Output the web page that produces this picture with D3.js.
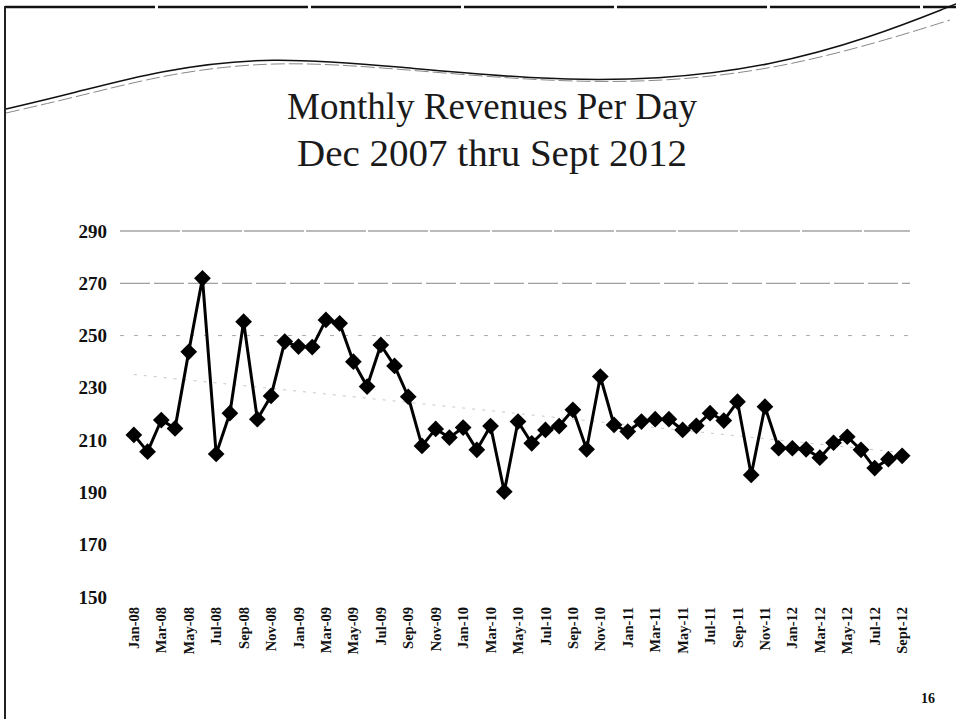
<!DOCTYPE html>
<html>
<head>
<meta charset="utf-8">
<script src="https://cdn.jsdelivr.net/npm/d3@7"></script>
<style>
  html, body { margin: 0; padding: 0; background: #fff; }
  svg { display: block; }
</style>
</head>
<body>
<svg id="chart" width="956" height="719"></svg>
<script>
// ---- data ----
const titleLines = ["Monthly Revenues Per Day", "Dec 2007 thru Sept 2012"];
const months = [
  "Jan-08","Feb-08","Mar-08","Apr-08","May-08","Jun-08","Jul-08","Aug-08","Sep-08","Oct-08","Nov-08","Dec-08",
  "Jan-09","Feb-09","Mar-09","Apr-09","May-09","Jun-09","Jul-09","Aug-09","Sep-09","Oct-09","Nov-09","Dec-09",
  "Jan-10","Feb-10","Mar-10","Apr-10","May-10","Jun-10","Jul-10","Aug-10","Sep-10","Oct-10","Nov-10","Dec-10",
  "Jan-11","Feb-11","Mar-11","Apr-11","May-11","Jun-11","Jul-11","Aug-11","Sep-11","Oct-11","Nov-11","Dec-11",
  "Jan-12","Feb-12","Mar-12","Apr-12","May-12","Jun-12","Jul-12","Aug-12","Sept-12"
];
const revenues = [
  212.0, 205.6, 217.7, 214.5, 243.8, 271.9, 204.7, 220.3, 255.3, 218.0, 226.9, 247.7,
  245.8, 245.6, 256.0, 254.7, 240.0, 230.5, 246.4, 238.4, 226.6, 207.8, 214.3, 211.0,
  214.8, 206.3, 215.4, 190.3, 217.1, 208.8, 213.9, 215.4, 221.6, 206.5, 234.3, 215.8,
  213.3, 217.1, 218.0, 218.0, 213.9, 215.5, 220.3, 217.5, 224.7, 196.7, 222.8, 206.9,
  206.9, 206.5, 203.3, 209.0, 211.3, 206.3, 199.3, 202.7, 204.0
];
const yTicks = [150, 170, 190, 210, 230, 250, 270, 290];
const gridValues = [290, 270, 250];
const pageNumber = "16";

// ---- drawing ----
const svg = d3.select("#chart");

// decorative frame
svg.append("line").attr("x1", 5).attr("y1", 7).attr("x2", 956).attr("y2", 7)
  .attr("stroke", "#111").attr("stroke-width", 2.5).attr("stroke-dasharray", "150,3");
svg.append("line").attr("x1", 5).attr("y1", 6).attr("x2", 5).attr("y2", 719)
  .attr("stroke", "#222").attr("stroke-width", 2);

// decorative swoosh
const swoosh = d3.line().curve(d3.curveBasis);
const sw1 = [[6,109],[70,94],[160,70],[270,56],[400,67],[540,80],[660,80],[770,66],[870,38],[956,4]];
const sw2 = [[6,113],[80,96],[170,73],[280,60],[410,70],[550,82],[670,82],[780,68],[880,42],[950,20]];
svg.append("path").attr("d", swoosh(sw1)).attr("fill", "none").attr("stroke", "#111").attr("stroke-width", 1.5);
svg.append("path").attr("d", swoosh(sw2)).attr("fill", "none").attr("stroke", "#888").attr("stroke-width", 1)
  .attr("stroke-dasharray", "14,4");

// title
const titleY = [119, 166];
titleLines.forEach((t, i) => {
  svg.append("text")
    .attr("x", 492).attr("y", titleY[i])
    .attr("text-anchor", "middle")
    .attr("font-family", "'Liberation Serif', 'Times New Roman', serif")
    .attr("font-size", 38)
    .attr("fill", "#1a1a1a")
    .attr("textLength", i === 0 ? 410 : 390)
    .attr("lengthAdjust", "spacingAndGlyphs")
    .text(t);
});

// scales
const x = d3.scaleBand().domain(months).range([127, 909]);
const y = d3.scaleLinear().domain([150, 290]).range([597, 231]);
const cx = d => x(d) + x.bandwidth() / 2;

// gridlines
svg.append("g").selectAll("line").data(gridValues).join("line")
  .attr("x1", 120).attr("x2", 910)
  .attr("y1", d => y(d)).attr("y2", d => y(d))
  .attr("stroke", (d, i) => i === 0 ? "#777" : (i === 1 ? "#888" : "#aaa"))
  .attr("stroke-width", 1)
  .attr("stroke-dasharray", (d, i) => i === 0 ? "60,2" : (i === 1 ? "30,4" : "4,10"));

// y axis (labels only)
const yAxis = d3.axisLeft(y).tickValues(yTicks).tickSize(0).tickPadding(0).tickFormat(d3.format("d"));
const gy = svg.append("g").attr("transform", "translate(107,0)").call(yAxis);
gy.select(".domain").remove();
gy.selectAll("text")
  .attr("font-family", "'Liberation Serif', 'DejaVu Serif', serif")
  .attr("font-weight", "bold")
  .attr("font-size", 19)
  .attr("fill", "#111")
  .style("font-variant-numeric", "oldstyle-nums");

// x axis (rotated labels, every other month)
const xAxis = d3.axisBottom(x)
  .tickValues(months.filter((m, i) => i % 2 === 0))
  .tickSize(0).tickPadding(0);
const gx = svg.append("g").attr("transform", "translate(0,604)").call(xAxis);
gx.select(".domain").remove();
gx.selectAll("text")
  .attr("transform", "rotate(-90)")
  .attr("text-anchor", "end")
  .attr("x", -3).attr("y", 0).attr("dy", "0.35em")
  .attr("font-family", "'Liberation Serif', 'DejaVu Serif', serif")
  .attr("font-weight", "bold")
  .attr("font-size", 14.5)
  .attr("fill", "#111");

// linear trend line (least squares on the series)
const n = revenues.length;
const xs = d3.range(n);
const mx = d3.mean(xs), my = d3.mean(revenues);
const slope = d3.sum(xs, i => (i - mx) * (revenues[i] - my)) / d3.sum(xs, i => (i - mx) ** 2);
const icpt = my - slope * mx;
svg.append("line")
  .attr("x1", cx(months[0])).attr("y1", y(icpt))
  .attr("x2", cx(months[n - 1])).attr("y2", y(icpt + slope * (n - 1)))
  .attr("stroke", "#c8c8c8").attr("stroke-width", 1).attr("stroke-dasharray", "3,7");

// series line
const line = d3.line().x((d, i) => cx(months[i])).y(d => y(d));
svg.append("path").datum(revenues)
  .attr("d", line)
  .attr("fill", "none").attr("stroke", "#000").attr("stroke-width", 3)
  .attr("stroke-linejoin", "round");

// diamond markers
const sq = d3.symbol().type(d3.symbolSquare).size(140);
svg.append("g").selectAll("path").data(revenues).join("path")
  .attr("d", sq())
  .attr("transform", (d, i) => `translate(${cx(months[i])},${y(d)}) rotate(45)`)
  .attr("fill", "#000");

// page number
svg.append("text").attr("x", 928).attr("y", 703).attr("text-anchor", "middle")
  .attr("font-family", "'Liberation Serif', serif").attr("font-weight", "bold")
  .attr("font-size", 14).attr("fill", "#111")
  .style("font-variant-numeric", "oldstyle-nums")
  .text(pageNumber);
</script>
</body>
</html>
